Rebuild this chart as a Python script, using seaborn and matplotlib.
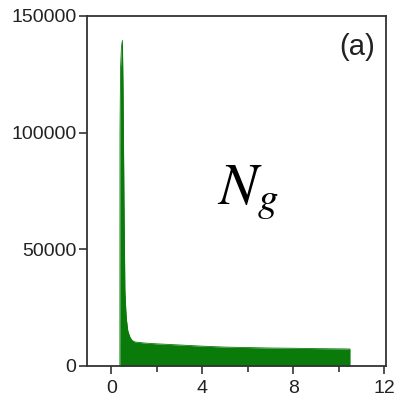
import matplotlib
matplotlib.use("Agg")
import matplotlib.pyplot as plt
import seaborn as sns
import pandas as pd
from matplotlib.ticker import MultipleLocator

# Band-gap histogram envelope (gap in eV, number of structures)
gap = [0.37, 0.375, 0.40, 0.44, 0.48, 0.51, 0.55, 0.59, 0.63, 0.66, 0.72,
       0.81, 0.90, 1.03, 1.5, 2.0, 3.0, 4.0, 5.0, 6.0, 7.0, 8.0, 9.0, 10.0,
       10.48, 10.48]
count = [0, 100000, 128000, 137000, 139500, 118000, 71000, 32600, 24000,
         19700, 15000, 12400, 11000, 10300, 9800, 9500, 9000, 8500, 8100,
         7900, 7700, 7600, 7450, 7350, 7300, 0]

x_ticks = [0, 4, 8, 12]
y_ticks = [0, 50000, 100000, 150000]
panel_label = "(a)"
series_label = r"$N_g$"

df = pd.DataFrame({"gap": gap, "count": count})

sns.set_style("ticks")
plt.rcParams["font.family"] = ["Liberation Sans", "DejaVu Sans"]
plt.rcParams["mathtext.fontset"] = "stix"

fig = plt.figure(figsize=(4.01, 3.98), dpi=100)
ax = fig.add_axes([86.9 / 401, 32 / 398, (385.6 - 86.9) / 401, 350 / 398])

green = "#0a7a0a"
sns.lineplot(data=df, x="gap", y="count", color=green, lw=0.6, ax=ax,
             sort=False, estimator=None)
ax.fill_between(df["gap"], 0, df["count"], color=green, lw=0)

ax.set_xlim(-1.08, 12.05)
ax.set_ylim(0, 150000)
ax.set_xticks(x_ticks)
ax.set_yticks(y_ticks)
ax.xaxis.set_minor_locator(MultipleLocator(2))
ax.set_xlabel("")
ax.set_ylabel("")

edge = "#333333"
for s in ax.spines.values():
    s.set_visible(True)
    s.set_color(edge)
    s.set_linewidth(1.3)

ax.tick_params(axis="both", which="major", direction="out", length=6,
               width=1.2, color=edge, labelsize=14, labelcolor="#222222", pad=1.5)
ax.tick_params(axis="x", which="minor", direction="out", length=4,
               width=1.2, color=edge)
ax.tick_params(axis="x", which="major", pad=4)

ax.text(6.0, 74500, series_label, fontsize=42, ha="center", va="center",
        color="black")
ax.text(10.8, 136700, panel_label, fontsize=21, ha="center", va="center",
        color="#222222")

fig.savefig("out.png", dpi=100)
